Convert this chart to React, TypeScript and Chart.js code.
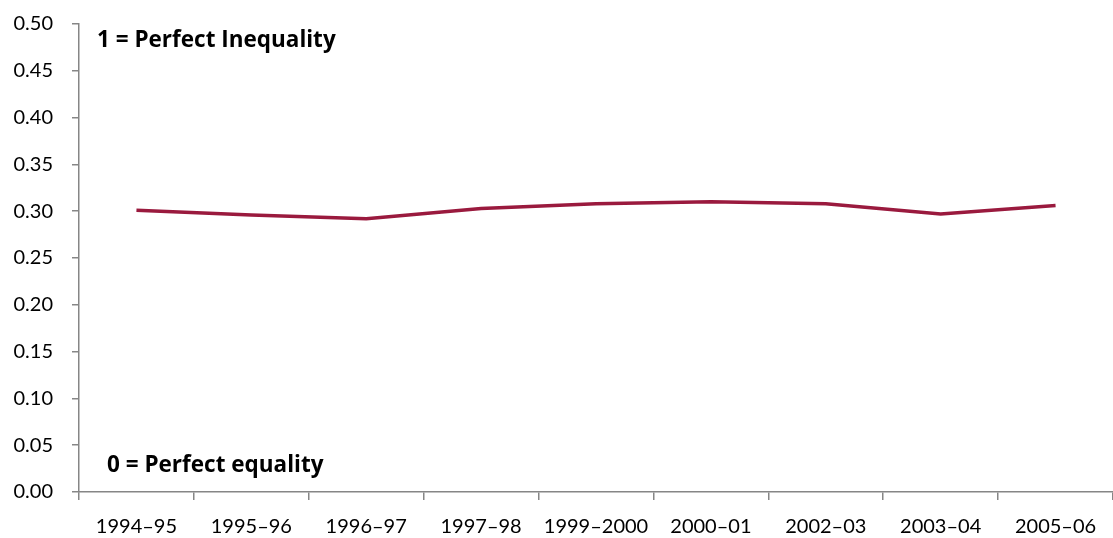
import React, { useEffect, useRef } from "react";
import { Chart, registerables } from "chart.js";

Chart.register(...registerables);

const years = [
  "1994–95",
  "1995–96",
  "1996–97",
  "1997–98",
  "1999–2000",
  "2000–01",
  "2002–03",
  "2003–04",
  "2005–06",
];

const giniCoefficient = [0.301, 0.296, 0.292, 0.303, 0.308, 0.31, 0.308, 0.297, 0.306];

const topNote = "1 = Perfect Inequality";
const bottomNote = "0 = Perfect equality";

const FONT = "Lato, 'Open Sans', sans-serif";
const NOTE_FONT = "'Open Sans', Lato, sans-serif";
const AXIS_GREY = "#868686";

const notesPlugin = {
  id: "scaleNotes",
  afterDatasetsDraw(chart: Chart) {
    const { ctx, chartArea } = chart;
    ctx.save();
    ctx.fillStyle = "#000";
    ctx.font = `bold 22.5px ${NOTE_FONT}`;
    ctx.textBaseline = "middle";
    ctx.textAlign = "left";
    ctx.fillText(topNote, chartArea.left + 18, chartArea.top + 17);
    ctx.fillText(bottomNote, chartArea.left + 28, chartArea.bottom - 26);
    ctx.restore();
  },
};

export default function App() {
  const canvasRef = useRef<HTMLCanvasElement | null>(null);

  useEffect(() => {
    if (!canvasRef.current) return;
    const chart = new Chart(canvasRef.current, {
      type: "line",
      data: {
        labels: years,
        datasets: [
          {
            data: giniCoefficient,
            borderColor: "#9A1A3E",
            borderWidth: 3.5,
            pointRadius: 0,
            tension: 0,
          },
        ],
      },
      options: {
        animation: false,
        responsive: false,
        maintainAspectRatio: false,
        layout: { padding: { top: 24, right: 0, bottom: 0, left: 0 } },
        plugins: { legend: { display: false }, tooltip: { enabled: false } },
        scales: {
          x: {
            offset: true,
            grid: {
              offset: true,
              drawOnChartArea: false,
              drawTicks: true,
              tickLength: 8,
              color: AXIS_GREY,
              lineWidth: 1.5,
            },
            border: { color: AXIS_GREY, width: 1.5 },
            ticks: {
              color: "#000",
              font: { family: FONT, size: 20 },
              padding: 15,
              maxRotation: 0,
              autoSkip: false,
            },
            afterFit(scale: any) {
              scale.height = 46;
              scale.paddingLeft = 0;
              scale.paddingRight = 0;
            },
          },
          y: {
            min: 0,
            max: 0.5,
            grid: {
              drawOnChartArea: false,
              drawTicks: true,
              tickLength: 7,
              color: AXIS_GREY,
              lineWidth: 1.5,
            },
            border: { color: AXIS_GREY, width: 1.5 },
            ticks: {
              stepSize: 0.05,
              color: "#000",
              font: { family: FONT, size: 20 },
              padding: 19,
              callback: (v: any) => Number(v).toFixed(2),
            },
            afterFit(scale: any) {
              scale.width = 79;
              scale.paddingTop = 0;
              scale.paddingBottom = 0;
            },
          },
        },
      },
      plugins: [notesPlugin],
    });
    return () => chart.destroy();
  }, []);

  return (
    <div style={{ position: "fixed", left: 0, top: 0, width: 1113, height: 538, background: "#fff" }}>
      <canvas ref={canvasRef} width={1113} height={538} style={{ display: "block" }} />
    </div>
  );
}
